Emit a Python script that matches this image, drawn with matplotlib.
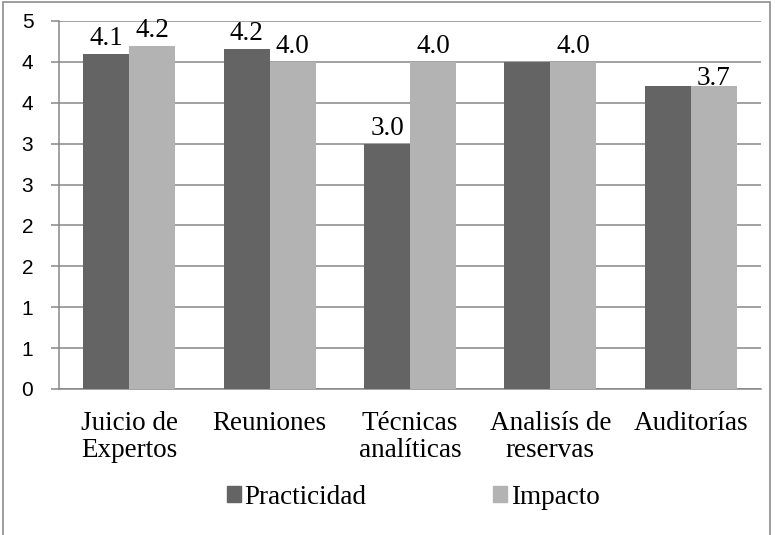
import numpy as np
import matplotlib
matplotlib.use('Agg')
import matplotlib.pyplot as plt
from matplotlib.patches import Patch, Rectangle

# Datos del gráfico
categorias = ['Juicio de\nExpertos', 'Reuniones', 'Técnicas\nanalíticas', 'Analisís de\nreservas', 'Auditorías']
practicidad = [4.1, 4.16, 3.0, 4.0, 3.71]
impacto = [4.2, 4.0, 4.0, 4.0, 3.71]
# etiquetas visibles (None = sin etiqueta)
etiq_practicidad = ['4.1', '4.2', '3.0', None, None]
etiq_impacto = ['4.2', '4.0', '4.0', '4.0', '3.7']
ticks_y = [0, 0.5, 1, 1.5, 2, 2.5, 3, 3.5, 4, 4.5]
ticks_y_txt = ['0', '1', '1', '2', '2', '3', '3', '4', '4', '5']

oscuro = '#646464'
claro = '#b3b3b3'
gris = '#878787'
serif = 'Liberation Serif'
tam = 19.5

fig = plt.figure(figsize=(7.75, 5.35), dpi=100)
ax = fig.add_axes([59 / 775, 1 - 389 / 535, 702 / 775, 368 / 535])

x = np.arange(len(categorias))
w = 0.327
b1 = ax.bar(x - w / 2, practicidad, w, color=oscuro, zorder=3)
b2 = ax.bar(x + w / 2, impacto, w, color=claro, zorder=3)

# etiquetas de datos
for barras, etiquetas in [(b1, etiq_practicidad), (b2, etiq_impacto)]:
    for b, t in zip(barras, etiquetas):
        if t is None:
            continue
        dy = 0.5 if t == '3.7' else 6.5
        ax.annotate(t, (b.get_x() + b.get_width() / 2, b.get_height()),
                    xytext=(0, dy), textcoords='offset points',
                    ha='center', va='baseline', fontsize=tam,
                    family=serif, zorder=4)

ax.set_xlim(-0.5, len(categorias) - 0.5)
ax.set_ylim(0, 4.5)
ax.set_yticks(ticks_y)
ax.set_yticklabels(ticks_y_txt, family='Liberation Sans', fontsize=15)
ax.set_xticks(x)
ax.set_xticklabels(categorias, family=serif, fontsize=tam, linespacing=1.12)

ax.grid(axis='y', color=gris, linewidth=1.1, zorder=0)
ax.tick_params(axis='y', length=6, width=1.1, color=gris, pad=12.5)
ax.tick_params(axis='x', length=0, pad=15.5)
for lado in ['top', 'right']:
    ax.spines[lado].set_visible(False)
for lado in ['left', 'bottom']:
    ax.spines[lado].set_color(gris)
    ax.spines[lado].set_linewidth(1.1)

handles = [Patch(color=oscuro, label='Practicidad'), Patch(color=claro, label='Impacto')]
fig.legend(handles=handles, loc='center', bbox_to_anchor=(413 / 775, 1 - 497 / 535),
           ncol=2, frameon=False, prop={'family': serif, 'size': tam},
           handlelength=0.52, handleheight=0.52, handletextpad=0.12,
           columnspacing=4.7, borderaxespad=0)

# borde exterior
fig.patches.append(Rectangle((3 / 775, -0.01), 767 / 775, 1.01 - 2 / 535,
                             transform=fig.transFigure, fill=False,
                             edgecolor='#8c8c8c', linewidth=1.2))

plt.savefig('out.png', dpi=100)
